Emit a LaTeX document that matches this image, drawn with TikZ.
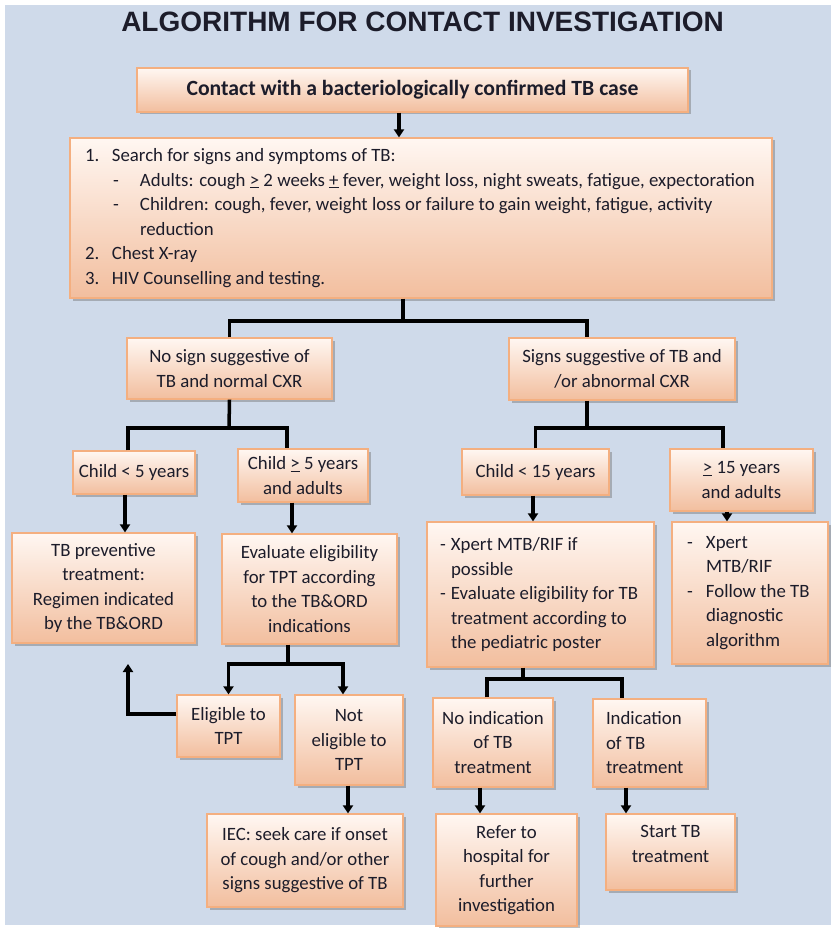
\documentclass[tikz,border=0pt]{standalone}
\usepackage{fontspec}
\setmainfont{Carlito}
\newfontfamily\titlefont{Liberation Sans}
\usetikzlibrary{calc}
\usetikzlibrary{shadows}
\usetikzlibrary{arrows.meta}
\definecolor{bgblue}{HTML}{CFDAEA}
\definecolor{peachtop}{HTML}{FFF7F2}
\definecolor{peachbot}{HTML}{F2BE9E}
\definecolor{peachline}{HTML}{F4AF80}
\definecolor{inktext}{HTML}{1C1C2A}
\tikzset{
  tbbox/.style={draw=peachline, line width=1.2pt, top color=peachtop, bottom color=peachbot,
    drop shadow={shadow xshift=2.5pt, shadow yshift=-2.5pt, fill=black!55, opacity=.45},
    inner sep=0pt, align=center, text=inktext, font=\fontsize{18.8}{24.5}\selectfont},
  link/.style={line width=3.5pt, black},
  arr/.style={link, -{Triangle[length=8pt,width=10pt]}}
}

\begin{document}
\begin{tikzpicture}[x=1pt,y=-1pt]
\useasboundingbox (0,0) rectangle (831,928);
\fill[white] (0,0) rectangle (831,928);
\fill[bgblue] (5,5) rectangle (831,925);
\node[font=\titlefont\bfseries\fontsize{28}{30}\selectfont, text=inktext] (title) at (422.5,22) {ALGORITHM FOR CONTACT INVESTIGATION};

% first level
\node[tbbox, font=\bfseries\fontsize{21.7}{24}\selectfont, minimum width=551pt, minimum height=44pt] (contact) at (412.5,90)
  {Contact with a bacteriologically confirmed TB case};
\node[tbbox, align=flush left, text width=672pt, inner xsep=15pt, minimum height=160pt, font=\fontsize{18.8}{24.6}\selectfont] (list) at (421,218)
  {\makebox[27pt][l]{1.}Search for signs and symptoms of TB:\\
   \mbox{\hspace*{28pt}\makebox[27pt][l]{-}Adults: cough \underline{>} 2 weeks \underline{+} fever, weight loss, night sweats, fatigue, expectoration}\\
   \mbox{\hspace*{28pt}\makebox[27pt][l]{-}Children: cough, fever, weight loss or failure to gain weight, fatigue, activity}\\
   \hspace*{55pt}reduction\\
   \makebox[27pt][l]{2.}Chest X-ray\\
   \makebox[27pt][l]{3.}HIV Counselling and testing.};

% screening result
\node[tbbox, minimum width=205pt, minimum height=61pt] (nosign) at (229.5,368.5) {No sign suggestive of\\TB and normal CXR};
\node[tbbox, minimum width=226pt, minimum height=62pt] (signs) at (622,369) {Signs suggestive of TB and\\/or abnormal CXR};

% age groups
\node[tbbox, minimum width=122pt, minimum height=43pt] (under5) at (134,472.5) {Child < 5 years};
\node[tbbox, minimum width=130pt, minimum height=53pt] (over5) at (303,475.5) {Child \underline{>} 5 years\\and adults};
\node[tbbox, minimum width=147pt, minimum height=46pt] (under15) at (535.5,472) {Child < 15 years};
\node[tbbox, minimum width=143pt, minimum height=62pt] (over15) at (741.5,480) {\underline{>} 15 years\\and adults};

% actions
\node[tbbox, minimum width=183pt, minimum height=110pt] (tpt) at (103.5,588) {TB preventive\\treatment:\\Regimen indicated\\by the TB\&ORD};
\node[tbbox, minimum width=175pt, minimum height=110pt] (evaluate) at (309.5,589) {Evaluate eligibility\\for TPT according\\to the TB\&ORD\\indications};
\node[tbbox, align=flush left, text width=201pt, inner xsep=13pt, minimum height=145pt] (xpertchild) at (540.5,594.5)
  {\makebox[11pt][l]{-}Xpert MTB/RIF if\\
   \hspace*{11pt}possible\\
   \mbox{\makebox[11pt][l]{-}Evaluate eligibility for TB}\\
   \hspace*{11pt}treatment according to\\
   \hspace*{11pt}the pediatric poster};
\node[tbbox, align=flush left, text width=126pt, inner xsep=15pt, minimum height=142pt] (xpertadult) at (750,593)
  {\makebox[19pt][l]{-}Xpert\\
   \hspace*{19pt}MTB/RIF\\
   \makebox[19pt][l]{-}Follow the TB\\
   \hspace*{19pt}diagnostic\\
   \hspace*{19pt}algorithm};

% eligibility
\node[tbbox, minimum width=103pt, minimum height=62pt] (eligible) at (228.5,726) {Eligible to\\TPT};
\node[tbbox, minimum width=108pt, minimum height=90pt] (noteligible) at (349,740) {Not\\eligible to\\TPT};
\node[tbbox, minimum width=196pt, minimum height=93pt] (iec) at (305,860.5) {IEC: seek care if onset\\of cough and/or other\\signs suggestive of TB};
\node[tbbox, minimum width=120pt, minimum height=89pt] (noind) at (493,742.5) {No indication\\of TB\\treatment};
\node[tbbox, align=flush left, text width=87pt, inner xsep=13pt, minimum height=88pt] (ind) at (649.5,743) {Indication\\of TB\\treatment};
\node[tbbox, minimum width=141pt, minimum height=112pt] (refer) at (506.5,870) {Refer to\\hospital for\\further\\investigation};
\node[tbbox, minimum width=129pt, minimum height=76pt] (start) at (670.5,852) {Start TB\\treatment\\[-8pt]\mbox{}};

% branch points
\coordinate (split1) at (403,321);
\coordinate (split2) at (229,428);
\coordinate (split3) at (587,428);
\coordinate (split4) at (288,664);
\coordinate (split5) at (523,679);
\coordinate (back) at (128,664);

% connectors
\draw[arr] ($(contact.south)+(-13.5,0)$) coordinate (c1) -- (c1 |- list.north);
\draw[link] (list.south -| split1) -- (split1);
\draw[link] (nosign.north) |- (split1) -| ($(signs.north)+(-35,0)$);
\draw[link] (nosign.south) -- (split2);
\draw[link] ($(under5.north)+(-6,0)$) |- (split2) -| ($(over5.north)+(-16,0)$);
\draw[link] (signs.south -| split3) -- (split3);
\draw[link] (under15.north) |- (split3) -| ($(over15.north)+(-18.5,0)$);
\draw[arr] ($(under5.south)+(-9,0)$) coordinate (e1) -- (e1 |- tpt.north);
\draw[arr] ($(over5.south)+(-11,0)$) coordinate (f1) -- (f1 |- evaluate.north);
\draw[arr] ($(under15.south)+(-2.5,0)$) coordinate (g1) -- (g1 |- xpertchild.north);
\draw[arr] ($(over15.south)+(-14.5,0)$) coordinate (h1) -- (h1 |- xpertadult.north);
\draw[link] (evaluate.south -| split4) -- (split4);
\draw[arr] (split4) -| (eligible.north);
\draw[arr] (split4) -| ($(noteligible.north)+(-6,0)$);
\draw[arr] ($(eligible.west)+(0,-12)$) -| (back);
\draw[arr] ($(noteligible.south)+(-1,0)$) coordinate (n1) -- (n1 |- iec.north);
\draw[link] (xpertchild.south -| split5) -- (split5);
\draw[link] ($(noind.north)+(-6,0)$) |- (split5) -| ($(ind.north)+(-27.5,0)$);
\draw[arr] ($(noind.south)+(-13,0)$) coordinate (p1) -- (p1 |- refer.north);
\draw[arr] ($(ind.south)+(-23.5,0)$) coordinate (q1) -- (q1 |- start.north);
\end{tikzpicture}
\end{document}
